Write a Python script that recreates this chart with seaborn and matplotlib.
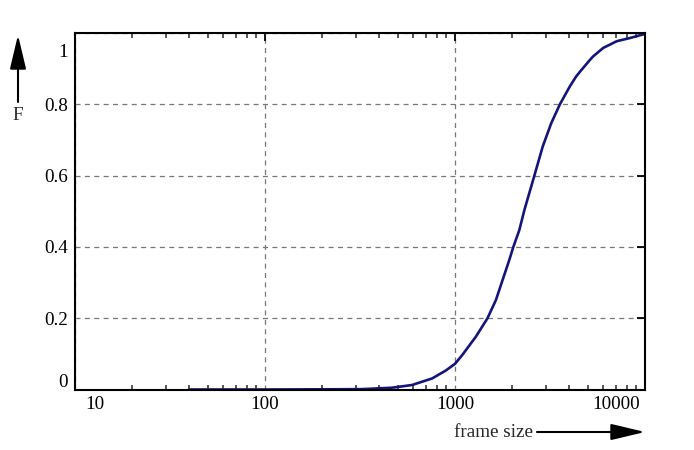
import numpy as np
import pandas as pd
import matplotlib
matplotlib.use("Agg")
import matplotlib.pyplot as plt
import matplotlib.transforms as mtransforms
from matplotlib.patches import FancyArrowPatch
import seaborn as sns

frame_size = [40, 100, 200, 322, 466, 594, 758, 893, 1000, 1093, 1287, 1483,
              1642, 1780, 1930, 2028, 2180, 2317, 2617, 2893, 3210, 3565,
              4010, 4340, 4623, 5140, 5326, 6020, 7100, 8350, 9610, 10000]
cdf = [0.0, 0.0, 0.0005, 0.001, 0.005, 0.0126, 0.031, 0.053, 0.072, 0.097,
       0.148, 0.200, 0.251, 0.307, 0.363, 0.400, 0.447, 0.503, 0.600, 0.681,
       0.747, 0.800, 0.849, 0.878, 0.896, 0.925, 0.934, 0.958, 0.977, 0.986,
       0.995, 0.997]
x_ticks = [10, 100, 1000, 10000]
x_labels = ["10", "100", "1000", "10000"]
y_ticks = [0, 0.2, 0.4, 0.6, 0.8, 1.0]
y_labels = ["0", "0.2", "0.4", "0.6", "0.8", "1"]

sns.set_style("white")
plt.rcParams["font.family"] = ["Liberation Serif", "DejaVu Serif"]

W, H = 694, 450
fig = plt.figure(figsize=(W / 100, H / 100), dpi=100)
L, R, T, B = 75, 645, 33, 389.5
ax = fig.add_axes([L / W, (H - B) / H, (R - L) / W, (B - T) / H])

df = pd.DataFrame({"frame size": frame_size, "F": cdf})
sns.lineplot(data=df, x="frame size", y="F", ax=ax, color="#14147a", lw=1.9)

ax.set_xscale("log")
ax.set_xlim(10, 10000)
ax.set_ylim(0, 1)
ax.set_xlabel("")
ax.set_ylabel("")

fs = 13.8
ax.set_xticks(x_ticks)
ax.set_xticklabels(x_labels, fontsize=fs)
ax.set_yticks(y_ticks)
ax.set_yticklabels(y_labels, fontsize=fs)
ax.xaxis.set_minor_locator(matplotlib.ticker.LogLocator(base=10, subs=np.arange(2, 10)))
ax.xaxis.set_minor_formatter(matplotlib.ticker.NullFormatter())

ax.tick_params(axis="both", which="major", direction="in", length=6, width=1.3,
               top=True, right=True, colors="black", pad=5)
ax.tick_params(axis="x", which="minor", direction="in", length=3.5, width=1.1,
               top=True, bottom=True)
ax.tick_params(axis="y", which="minor", left=False, right=False)

for s in ax.spines.values():
    s.set_color("black")
    s.set_linewidth(1.5)

ax.grid(True, which="major", axis="both", color="#777777", linestyle=(0, (4, 3.5)),
        linewidth=0.9)
ax.grid(False, which="minor")

# shift end labels inward, like the reference
xl = ax.get_xticklabels()
xl[0].set_ha("left")
xl[0].set_transform(xl[0].get_transform() + mtransforms.ScaledTranslation(10 / 100, 0, fig.dpi_scale_trans))
xl[-1].set_ha("right")
xl[-1].set_transform(xl[-1].get_transform() + mtransforms.ScaledTranslation(-5 / 100, 0, fig.dpi_scale_trans))
yl = ax.get_yticklabels()
yl[0].set_va("baseline")
yl[0].set_transform(yl[0].get_transform() + mtransforms.ScaledTranslation(0, 2.5 / 100, fig.dpi_scale_trans))
yl[-1].set_va("baseline")
yl[-1].set_transform(yl[-1].get_transform() + mtransforms.ScaledTranslation(0, -24 / 100, fig.dpi_scale_trans))

def fx(px):
    return px / W

def fy(py):
    return (H - py) / H

# y-axis arrow and label
arr_y = FancyArrowPatch((fx(18), fy(102)), (fx(18), fy(35)), transform=fig.transFigure,
                        arrowstyle="-|>,head_length=21,head_width=5", mutation_scale=1,
                        lw=1.5, color="black", shrinkA=0, shrinkB=0)
fig.add_artist(arr_y)
fig.text(fx(18), fy(115), "F", ha="center", va="center", fontsize=fs)

# x-axis arrow and label
fig.text(fx(454), fy(437), "frame size", ha="left", va="baseline", fontsize=fs)
arr_x = FancyArrowPatch((fx(537), fy(432)), (fx(645), fy(432)), transform=fig.transFigure,
                        arrowstyle="-|>,head_length=21,head_width=5", mutation_scale=1,
                        lw=1.5, color="black", shrinkA=0, shrinkB=0)
fig.add_artist(arr_x)

fig.savefig("out.png", dpi=100)
